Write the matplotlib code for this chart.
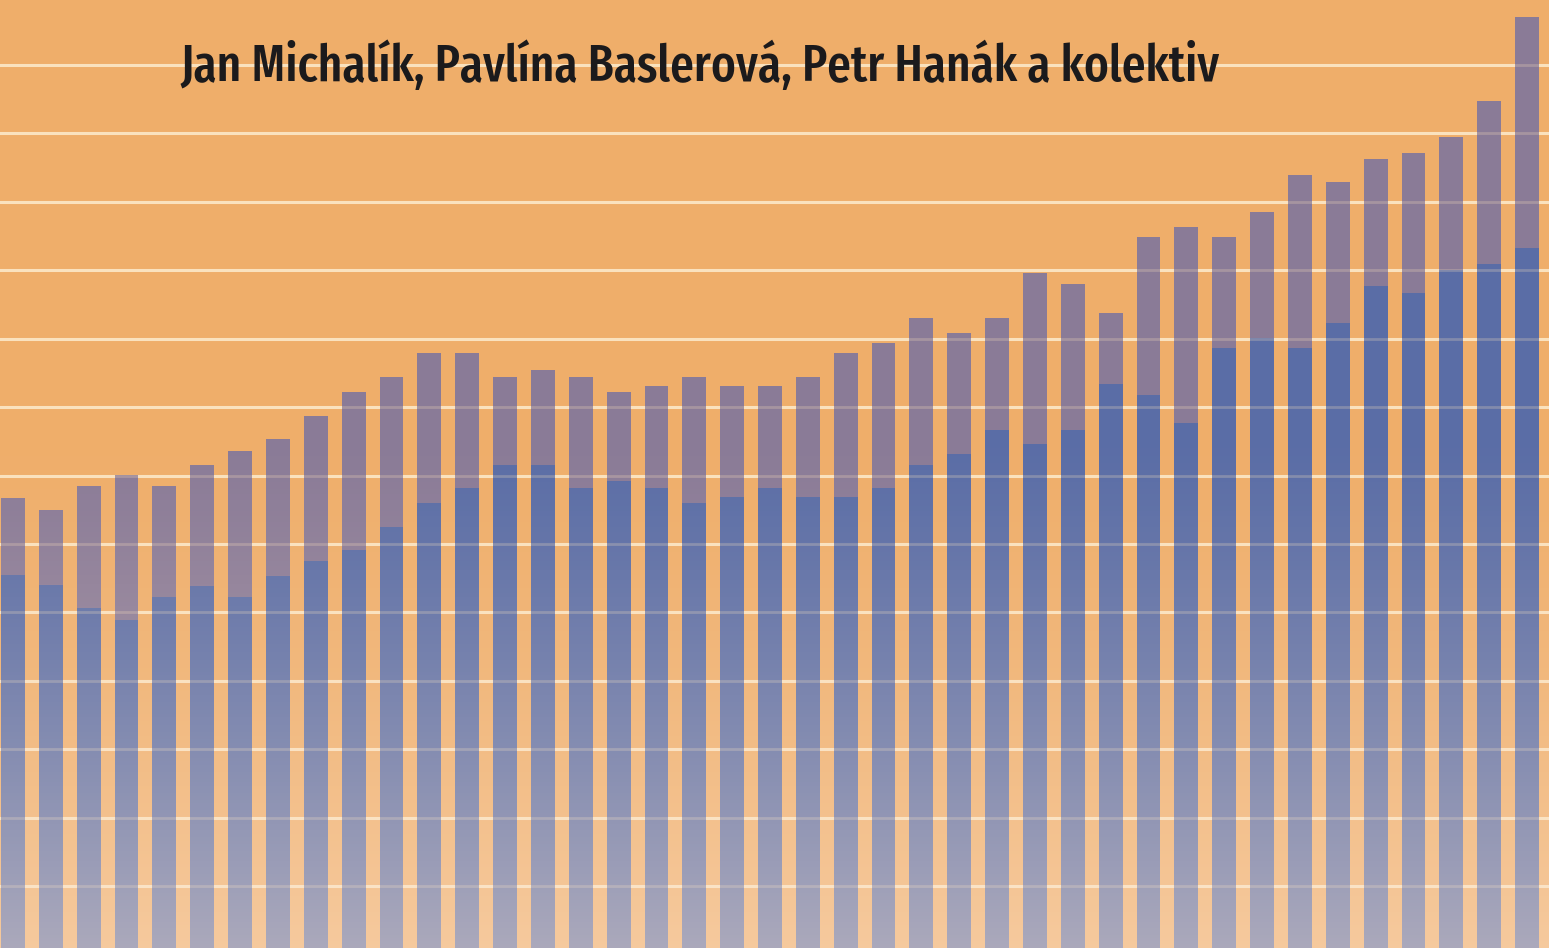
import numpy as np
import matplotlib.pyplot as plt

# bar heights (grid units), one entry per bar, left to right
total = [6.67, 6.50, 6.85, 7.01, 6.85, 7.16, 7.36, 7.54, 7.87, 8.22,
         8.44, 8.79, 8.79, 8.44, 8.54, 8.44, 8.22, 8.31, 8.44, 8.31,
         8.31, 8.44, 8.79, 8.94, 9.30, 9.08, 9.30, 9.96, 9.80, 9.38,
         10.49, 10.63, 10.49, 10.85, 11.39, 11.29, 11.63, 11.72, 11.95, 12.48,
         13.70]
lower = [5.55, 5.40, 5.06, 4.89, 5.23, 5.39, 5.23, 5.53, 5.75, 5.91,
         6.25, 6.60, 6.82, 7.15, 7.15, 6.82, 6.92, 6.82, 6.60, 6.69,
         6.82, 6.69, 6.69, 6.82, 7.15, 7.32, 7.67, 7.46, 7.67, 8.34,
         8.18, 7.77, 8.87, 9.01, 8.87, 9.23, 9.77, 9.67, 10.01, 10.09,
         10.33]
authors = "Jan Michalík, Pavlína Baslerová, Petr Hanák a kolektiv"

total = np.array(total)
lower = np.array(lower)
x = np.arange(len(total))

fig = plt.figure(figsize=(15.49, 9.48), dpi=100)
fig.patch.set_facecolor('#EFAE6A')
ax = fig.add_axes([0, 0, 1, 1])
ax.set_facecolor('#EFAE6A')

# grid lines behind the bars
for g in range(1, 15):
    ax.axhline(g, color='#FAE2BE', lw=2.2, zorder=1)

ax.bar(x, lower, width=0.63, color='#5A6DA6', zorder=2)
ax.bar(x, total - lower, bottom=lower, width=0.63, color='#8A7B97', zorder=2)

# faint grid lines showing through the bars
for g in range(1, 15):
    ax.axhline(g, color='#FAE2BE', lw=2.0, alpha=0.25, zorder=3)

# fade towards the bottom (row 0 = bottom)
h = 200
alpha = np.clip((np.linspace(1, 0, h) - 0.45) / 0.55, 0, 1) ** 1.3 * 0.5
fade = np.zeros((h, 1, 4))
fade[..., 0] = 0.99
fade[..., 1] = 0.90
fade[..., 2] = 0.82
fade[..., 3] = alpha[:, None]
ax.imshow(fade, extent=[0, 1, 0, 1], transform=ax.transAxes, aspect='auto',
          origin='lower', zorder=4, interpolation='bilinear')

ax.set_xlim(-0.343, 40.58)
ax.set_ylim(0.094, 13.95)
ax.axis('off')

t = fig.text(180 / 1549, 1 - 81 / 948, authors, fontsize=44, fontweight=500,
             family=['Fira Sans Extra Condensed', 'PT Sans Narrow', 'DejaVu Sans'],
             color='#1B1A1C', ha='left', va='baseline', zorder=10)
fig.canvas.draw()
w = t.get_window_extent().width
t.set_fontsize(44 * 1040 / w)

fig.savefig('out.png', dpi=100)
